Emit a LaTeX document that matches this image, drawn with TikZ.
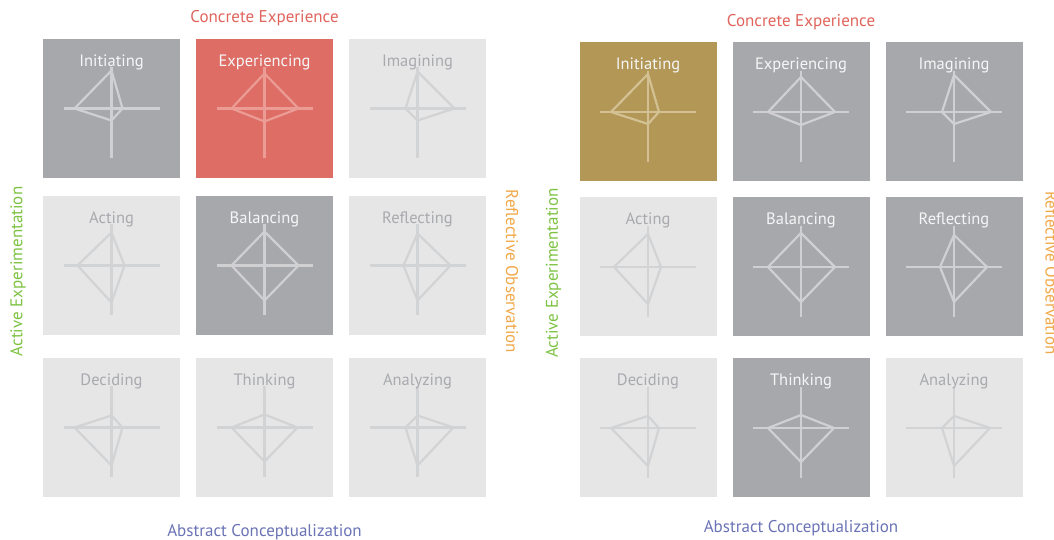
\documentclass[tikz,border=0pt]{standalone}
\usepackage{fontspec}
\setmainfont{PT Sans}
\usetikzlibrary{positioning,calc}

\definecolor{boxdark}{HTML}{A7A8AC}
\definecolor{boxlight}{HTML}{E6E6E6}
\definecolor{boxhot}{HTML}{DE6D66}
\definecolor{boxpick}{HTML}{B29756}
\definecolor{lndark}{HTML}{D0D0D2}
\definecolor{lnlight}{HTML}{D2D3D5}
\definecolor{lnhot}{HTML}{EA9C95}
\definecolor{lnpick}{HTML}{D3C194}
\definecolor{txdark}{HTML}{F6F6F6}
\definecolor{txlight}{HTML}{A9AAAF}
\definecolor{cered}{HTML}{E0645C}
\definecolor{aegreen}{HTML}{7DC242}
\definecolor{roorange}{HTML}{F0A848}
\definecolor{acblue}{HTML}{6A73B5}

\tikzset{
  cell/.style={minimum width=137pt,minimum height=139pt,inner sep=0pt,outer sep=0pt},
  darkcell/.style={cell,fill=boxdark},
  lightcell/.style={cell,fill=boxlight},
  hotcell/.style={cell,fill=boxhot},
  pickcell/.style={cell,fill=boxpick},
  celltext/.style={font=\fontsize{16.5}{19}\selectfont,inner sep=0pt},
  axislabel/.style={font=\fontsize{17}{20}\selectfont,inner sep=0pt},
}

% cell name, line colour, text colour, text, up, right, down, left
\newcommand{\radar}[8]{%
  \draw[line width=2.2pt,draw=#2] ($(#1)+(-48,0)$) -- ($(#1)+(48,0)$)
       ($(#1)+(0,41)$) -- ($(#1)+(0,-50)$);
  \draw[line width=2.2pt,draw=#2,line join=round] ($(#1)+(0,#5)$) -- ($(#1)+(#6,0)$)
       -- ($(#1)+(0,-#7)$) -- ($(#1)+(-#8,0)$) -- cycle;
  \node[celltext,text=#3] (#1-t) at ([yshift=-23pt]#1.north) {#4};
}

\begin{document}
\begin{tikzpicture}[x=1pt,y=1pt]
  \useasboundingbox (0,0) rectangle (1054,540);
  \clip (0,0) rectangle (1054,540);

  % left grid
  \node[darkcell] (lInit) at (111.5,431.5) {};
  \node[hotcell, right=16pt of lInit] (lExp) {};
  \node[lightcell, right=16pt of lExp] (lImag) {};
  \node[lightcell, below=18pt of lInit] (lAct) {};
  \node[darkcell, right=16pt of lAct] (lBal) {};
  \node[lightcell, right=16pt of lBal] (lRefl) {};
  \node[lightcell, below=23pt of lAct] (lDec) {};
  \node[lightcell, right=16pt of lDec] (lThink) {};
  \node[lightcell, right=16pt of lThink] (lAnlz) {};

  \radar{lInit}{lndark}{txdark}{Initiating}{38}{11}{12}{37}
  \radar{lExp}{lnhot}{txdark}{Experiencing}{35}{34}{13}{33}
  \radar{lImag}{lnlight}{txlight}{Imagining}{37}{37}{12}{12}
  \radar{lAct}{lnlight}{txlight}{Acting}{33}{13}{37}{34}
  \radar{lBal}{lndark}{txdark}{Balancing}{34}{34}{35}{33}
  \radar{lRefl}{lnlight}{txlight}{Reflecting}{32}{33}{35}{14}
  \radar{lDec}{lnlight}{txlight}{Deciding}{12}{11}{38}{37}
  \radar{lThink}{lnlight}{txlight}{Thinking}{13}{33}{34}{33}
  \radar{lAnlz}{lnlight}{txlight}{Analyzing}{12}{36}{38}{12}

  \node[axislabel,text=cered] (lCE) at ([yshift=21pt]lExp.north) {Concrete Experience};
  \node[axislabel,text=acblue] (lAC) at ([yshift=-35pt]lThink.south) {Abstract Conceptualization};
  \node[axislabel,text=aegreen,rotate=90] (lAE) at ([xshift=-25pt,yshift=-6pt]lAct.west) {Active Experimentation};
  \node[axislabel,text=roorange,rotate=-90] (lRO) at ([xshift=26pt,yshift=-6pt]lRefl.east) {Reflective Observation};

  % right grid
  \node[pickcell] (rInit) at (648,428) {};
  \node[darkcell, right=16pt of rInit] (rExp) {};
  \node[darkcell, right=16pt of rExp] (rImag) {};
  \node[lightcell, below=16pt of rInit] (rAct) {};
  \node[darkcell, right=16pt of rAct] (rBal) {};
  \node[darkcell, right=16pt of rBal] (rRefl) {};
  \node[lightcell, below=22pt of rAct] (rDec) {};
  \node[darkcell, right=16pt of rDec] (rThink) {};
  \node[lightcell, right=16pt of rThink] (rAnlz) {};

  \radar{rInit}{lnpick}{txdark}{Initiating}{38}{11}{12}{37}
  \radar{rExp}{lndark}{txdark}{Experiencing}{35}{34}{13}{33}
  \radar{rImag}{lndark}{txdark}{Imagining}{37}{37}{12}{12}
  \radar{rAct}{lnlight}{txlight}{Acting}{33}{13}{37}{34}
  \radar{rBal}{lndark}{txdark}{Balancing}{34}{34}{35}{33}
  \radar{rRefl}{lndark}{txdark}{Reflecting}{32}{33}{35}{14}
  \radar{rDec}{lnlight}{txlight}{Deciding}{12}{11}{38}{37}
  \radar{rThink}{lndark}{txdark}{Thinking}{13}{33}{34}{33}
  \radar{rAnlz}{lnlight}{txlight}{Analyzing}{12}{36}{38}{12}

  \node[axislabel,text=cered] (rCE) at ([yshift=20pt]rExp.north) {Concrete Experience};
  \node[axislabel,text=acblue] (rAC) at ([yshift=-31pt]rThink.south) {Abstract Conceptualization};
  \node[axislabel,text=aegreen,rotate=90] (rAE) at ([xshift=-26pt,yshift=-6pt]rAct.west) {Active Experimentation};
  \node[axislabel,text=roorange,rotate=-90] (rRO) at ([xshift=29pt,yshift=-6pt]rRefl.east) {Reflective Observation};
\end{tikzpicture}
\end{document}
